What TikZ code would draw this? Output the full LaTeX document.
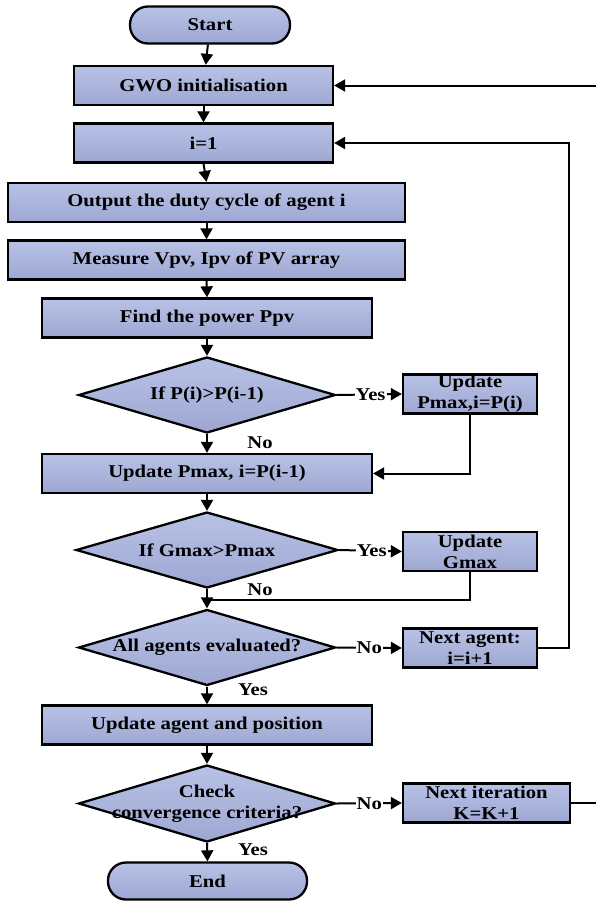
\documentclass[tikz,border=0pt]{standalone}
\usepackage{fontspec}
\setmainfont[FakeStretch=1.15]{Liberation Serif}
\usetikzlibrary{arrows.meta,shapes.geometric}

\definecolor{boxtop}{RGB}{184,194,230}
\definecolor{boxbot}{RGB}{158,167,210}

\tikzset{
  every node/.style={font=\fontsize{18}{21}\selectfont\bfseries},
  blk/.style={draw=black, line width=2.3pt, top color=boxtop, bottom color=boxbot,
              inner sep=0pt, align=center},
  procbox/.style={blk, rectangle, minimum width=#1, minimum height=39pt},
  procbox/.default=259pt,
  sidebox/.style={blk, rectangle, minimum width=#1, minimum height=39pt},
  sidebox/.default=134pt,
  term/.style={blk, rectangle, rounded corners=18pt, minimum height=37pt},
  decision/.style={blk, diamond, minimum width=257pt, minimum height=76pt},
  dtext/.style={align=center, inner sep=0pt},
  lbl/.style={fill=white, inner sep=1pt},
  arr/.style={line width=2pt, -{Triangle[length=11pt,width=12pt]}},
  wire/.style={line width=2pt},
}

\begin{document}
\begin{tikzpicture}[x=1pt, y=-1pt]
  \useasboundingbox (0,0) rectangle (596,902);
  \clip (0,0) rectangle (596,902);

  % main column
  \node[term, minimum width=160pt] (start) at (210,25) {Start};
  \node[procbox] (gwo) at (203.5,85.5) {GWO initialisation};
  \node[procbox] (i1) at (203.5,143) {i=1};
  \node[procbox=397pt] (out) at (206.5,202.5) {Output the duty cycle of agent i};
  \node[procbox=397pt] (meas) at (206.5,260) {Measure Vpv, Ipv of PV array};
  \node[procbox=330pt] (find) at (207,318) {Find the power Ppv};

  \node[decision] (d1) at (207,395) {};
  \node[dtext] (d1t) at (d1.center) {If P(i)>P(i-1)};
  \node[sidebox] (upd1) at (470,394) {Update\\Pmax,i=P(i)};

  \node[procbox=330pt] (updp) at (207,473.5) {Update Pmax, i=P(i-1)};

  \node[decision, minimum width=262pt] (d2) at (207,550) {};
  \node[dtext] (d2t) at (d2.center) {If Gmax>Pmax};
  \node[sidebox] (updg) at (470,551.5) {Update\\Gmax};

  \node[decision] (d3) at (207,647.5) {};
  \node[dtext] (d3t) at (d3.center) {All agents evaluated?};
  \node[sidebox] (next) at (470,648) {Next agent:\\i=i+1};

  \node[procbox=330pt] (updag) at (207,725) {Update agent and position};

  \node[decision, minimum height=77pt] (d4) at (207,803.5) {};
  \node[dtext] (d4t) at (d4.center) {Check\\convergence criteria?};
  \node[sidebox=167pt] (nextit) at (486.5,803) {Next iteration\\K=K+1};

  \node[term, minimum width=199pt] (end) at (207.5,881) {End};

  % vertical flow
  \draw[arr] (start) -- (gwo);
  \draw[arr] (gwo) -- (i1);
  \draw[arr] (i1.south) -- (out.north);
  \draw[arr] (out) -- (meas);
  \draw[arr] (meas.south) -- (find.north);
  \draw[arr] (find.south) -- (d1.north);
  \draw[arr] (d1.south) -- (updp.north);
  \draw[arr] (updp.south) -- (d2.north);
  \draw[arr] (d2.south) -- (d3.north);
  \draw[arr] (d3.south) -- (updag.north);
  \draw[arr] (updag.south) -- (d4.north);
  \draw[arr] (d4.south) -- (end.north);

  % branches to the right
  \draw[arr] (d1.east) -- node[lbl, pos=0.52] (yes1) {Yes} (upd1.west);
  \draw[arr] (upd1.south) |- (updp.east);

  \draw[arr] (d2.east) -- node[lbl, pos=0.52] (yes2) {Yes} (updg.west);
  \coordinate (j2) at (207,600);
  \draw[wire] (updg.south) |- (j2);

  \draw[arr] (d3.east) -- node[lbl, pos=0.5] (no3) {No} (next.west);
  \coordinate (loopi) at (569,648);
  \draw[arr] (next.east) -- (loopi) |- (i1.east);

  \draw[arr] (d4.east) -- node[lbl, pos=0.5] (no4) {No} (nextit.west);
  \coordinate (loopk) at (604,803);
  \draw[arr] (nextit.east) -- (loopk) |- (gwo.east);

  % labels under the decisions
  \node (no1) at (260,443) {No};
  \node (no2) at (260,590) {No};
  \node (yes3) at (253,690) {Yes};
  \node (yes4) at (253,850) {Yes};
\end{tikzpicture}
\end{document}
